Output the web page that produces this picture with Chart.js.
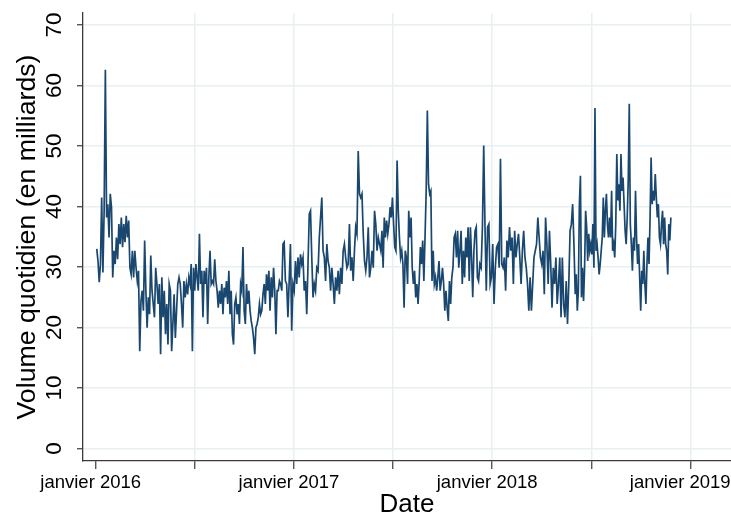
<!DOCTYPE html>
<html>
<head>
<meta charset="utf-8">
<script src="https://cdn.jsdelivr.net/npm/chart.js@4.4.0/dist/chart.umd.min.js"></script>
<style>
  html, body { margin: 0; padding: 0; background: #fff; }
</style>
</head>
<body>
<canvas id="chart" width="731" height="515"></canvas>
<script>
// Volume quotidien in six stretches of trading days
const segDates = ['2016-01-03', '2016-06-21', '2016-12-14', '2017-06-10', '2017-12-07', '2018-06-03', '2018-11-28'];

const vol2016a = [33.0, 31.0, 27.5, 30.5, 41.5, 29.1, 39.3, 62.6, 38.2, 40.4, 34.9, 42.1, 39.9, 28.3, 32.7, 30.5, 34.9, 31.3, 37.1, 33.8,
  38.2, 33.3, 37.1, 34.1, 38.5, 34.9, 37.7, 29.9, 28.8, 32.7, 28.3, 32.7, 29.9, 27.7, 29.4, 16.1, 24.4, 26.1, 22.8, 34.4,
  26.1, 20.0, 25.0, 22.2, 31.9, 26.1, 23.9, 21.7, 29.9, 27.2, 23.9, 27.2, 15.6, 28.3, 21.7, 26.1, 18.9, 23.9, 17.2, 27.2,
  26.1, 16.1, 20.6, 25.5, 18.3, 22.8, 27.2, 28.3, 27.2, 23.9, 20.0, 27.7, 25.0, 27.2, 25.5];

const vol2016b = [28.3, 27.2, 30.5, 16.1, 29.9, 26.1, 30.5, 28.3, 26.1, 35.5, 27.2, 29.4, 21.7, 29.4, 27.2, 29.9, 20.6, 28.3, 32.7, 27.2,
  27.7, 27.2, 31.3, 27.7, 26.1, 23.3, 26.1, 23.9, 27.2, 22.2, 26.6, 25.0, 27.7, 23.9, 29.4, 22.2, 26.1, 18.9, 17.2, 23.9,
  25.0, 22.2, 23.9, 20.6, 27.2, 26.1, 33.3, 22.8, 20.6, 27.2, 23.9, 26.1, 22.8, 21.1, 20.0, 18.3, 15.6, 20.0, 20.6, 21.7,
  23.9, 22.2, 22.8, 25.5, 27.2, 23.9, 28.8, 26.1, 29.4, 22.8, 28.3, 25.0, 29.9, 26.1, 18.9, 26.1, 26.1, 27.7, 27.2, 26.1, 33.8];

const vol2017a = [34.1, 27.7, 27.2, 21.7, 27.7, 33.8, 19.5, 27.2, 26.1, 31.0, 27.2, 31.6, 28.3, 32.1, 30.5, 31.6, 26.1, 27.7, 22.2, 30.5,
  38.8, 39.3, 31.6, 25.0, 27.2, 26.1, 29.9, 29.4, 34.9, 38.2, 41.5, 32.7, 31.6, 27.7, 33.8, 31.0, 29.9, 26.1, 29.9, 27.2,
  23.9, 28.3, 26.1, 29.4, 25.5, 29.9, 27.2, 32.7, 33.8, 31.6, 29.9, 30.5, 37.1, 29.4, 31.6, 27.7, 32.7, 36.6, 35.5, 49.2,
  42.1, 41.5, 42.1, 35.5, 31.0, 29.4, 31.6, 36.6, 28.3, 29.9, 32.7, 29.9, 39.3, 37.1, 32.7, 34.9, 33.8];

const vol2017b = [32.7, 36.0, 29.9, 38.2, 34.9, 37.7, 35.5, 37.1, 39.9, 38.2, 41.5, 37.1, 33.3, 32.7, 47.6, 39.3, 34.9, 31.6, 32.7, 30.5,
  23.3, 32.7, 31.6, 27.2, 39.3, 34.9, 38.2, 29.9, 27.2, 29.4, 25.0, 27.2, 23.9, 27.7, 33.3, 30.5, 34.4, 27.7, 34.9, 42.6,
  55.9, 43.7, 42.1, 42.6, 27.7, 32.7, 27.2, 28.3, 26.1, 28.3, 31.0, 26.1, 27.7, 29.9, 27.2, 22.8, 26.1, 23.3, 21.1, 27.7,
  23.9, 28.3, 29.9, 34.9, 35.5, 31.6, 36.0, 29.9, 32.7, 36.0, 27.2, 32.7, 28.3, 34.9, 31.6, 36.6, 27.7, 36.6, 31.6, 25.0,
  32.7, 36.0, 36.6, 28.3];

const vol2018a = [27.7, 30.5, 29.9, 36.6, 50.1, 36.6, 26.1, 36.6, 37.1, 27.2, 28.3, 33.8, 23.9, 29.9, 33.3, 33.8, 29.9, 47.9, 30.5, 29.9,
  31.6, 26.1, 34.4, 31.6, 36.6, 32.7, 34.9, 27.2, 36.0, 31.6, 33.8, 35.5, 31.6, 27.2, 32.7, 36.0, 31.6, 29.9, 27.2, 22.8,
  28.3, 22.8, 27.2, 31.6, 32.7, 33.8, 38.2, 34.9, 31.6, 30.5, 32.7, 25.5, 38.2, 33.8, 27.2, 36.0, 30.5, 23.3, 29.9, 27.2,
  31.6, 23.9, 27.2, 31.6, 21.7, 31.6, 23.9, 21.7, 27.7, 20.6, 27.2, 36.0, 37.1, 40.4, 33.8];

const vol2018b = [25.5, 28.8, 22.8, 26.1, 40.4, 45.1, 25.0, 29.9, 24.4, 29.9, 39.3, 36.6, 31.0, 35.5, 32.7, 33.8, 32.1, 37.1, 29.9, 56.3,
  32.7, 33.8, 31.6, 28.8, 30.5, 32.7, 34.9, 41.5, 34.9, 39.3, 42.1, 37.1, 34.9, 38.2, 34.9, 42.6, 32.7, 33.8, 31.6, 37.1,
  48.7, 41.0, 43.7, 39.3, 48.7, 42.6, 44.8, 40.4, 36.0, 33.8, 38.2, 44.3, 57.0, 37.1, 33.8, 29.4, 34.9, 32.7, 42.6, 34.9,
  30.5, 33.8, 28.3, 22.8, 29.4, 27.2, 32.7, 27.2, 23.9, 30.5, 34.9, 30.5, 38.2, 48.1, 40.4, 42.6, 41.0, 45.4, 41.5, 38.2,
  40.4, 34.9, 33.8, 37.1, 39.3, 33.8, 38.2, 33.8, 32.7, 28.8, 37.1, 34.4, 38.2];

const segments = [vol2016a, vol2016b, vol2017a, vol2017b, vol2018a, vol2018b];

const yTicks = [0, 10, 20, 30, 40, 50, 60, 70];
const xTicks = [2016, 2016.5, 2017, 2017.5, 2018, 2018.5, 2019];
// last label is pushed back inside the picture, as in the original
const xTickLabels = { 2016: 'janvier 2016', 2017: 'janvier 2017', 2018: 'janvier 2018', 2019: 'janvier 2019  ' };

var lineColor = '#1a476f';
var gridColor = '#e9f0f2';
var axisColor = '#3a3a3a';
var fontFamily = '"Liberation Sans", Arial, Helvetica, sans-serif';

// date string -> decimal year
function toYear(s) {
    var d = new Date(s + 'T00:00:00Z');
    var y = d.getUTCFullYear();
    var start = Date.UTC(y, 0, 1);
    var end = Date.UTC(y + 1, 0, 1);
    return y + (d.getTime() - start) / (end - start);
}

var points = [];
segments.forEach(function(vals, k) {
    var a = toYear(segDates[k]);
    var b = toYear(segDates[k + 1]);
    var step = (b - a) / vals.length;
    vals.forEach(function(v, i) {
        points.push({ x: a + i * step, y: v });
    });
});

const ctx = document.getElementById('chart').getContext('2d');
const myChart = new Chart(ctx, {
    type: 'line',
    data: {
        datasets: [{
            data: points,
            borderColor: lineColor,
            borderWidth: 1.7,
            pointRadius: 0,
            tension: 0,
            fill: false
        }]
    },
    options: {
        responsive: false,
        animation: false,
        devicePixelRatio: 1,
        layout: { padding: { top: 13, right: 0, bottom: 0, left: 0 } },
        plugins: {
            legend: { display: false },
            tooltip: { enabled: false }
        },
        scales: {
            x: {
                type: 'linear',
                min: 2015.936,
                max: 2019.205,
                afterBuildTicks: function(scale) {
                    scale.ticks = xTicks.map(function(v) { return { value: v }; });
                },
                afterFit: function(scale) {
                    scale.height = 54;
                    scale.paddingLeft = 0;
                    scale.paddingRight = 0;
                },
                grid: {
                    // no grid line on the first tick, next to the y axis
                    color: function(c) {
                        return c.tick && c.tick.value === 2016 ? 'rgba(0,0,0,0)' : gridColor;
                    },
                    lineWidth: 1.5,
                    tickLength: 8,
                    tickColor: axisColor,
                    tickWidth: 1.2
                },
                border: { display: true, color: axisColor, width: 1.3 },
                ticks: {
                    autoSkip: false,
                    maxRotation: 0,
                    padding: 3,
                    labelOffset: -5,
                    color: '#000',
                    font: { family: fontFamily, size: 18.5 },
                    callback: function(v) { return xTickLabels[v] || ''; }
                },
                title: {
                    display: true,
                    text: 'Date',
                    color: '#000',
                    font: { family: fontFamily, size: 26, lineHeight: 0.8 },
                    padding: 0
                }
            },
            y: {
                min: -2.05,
                max: 72,
                afterBuildTicks: function(scale) {
                    scale.ticks = yTicks.map(function(v) { return { value: v }; });
                },
                afterFit: function(scale) {
                    scale.width = 83;
                    scale.paddingTop = 0;
                    scale.paddingBottom = 0;
                },
                grid: {
                    color: gridColor,
                    lineWidth: 1.5,
                    tickLength: 6,
                    tickColor: axisColor,
                    tickWidth: 1.2
                },
                border: { display: true, color: axisColor, width: 1.3 },
                ticks: {
                    minRotation: 90,
                    maxRotation: 90,
                    crossAlign: 'center',
                    padding: 10,
                    color: '#000',
                    font: { family: fontFamily, size: 22.5 }
                },
                title: {
                    display: true,
                    text: 'Volume quotidien (en milliards)',
                    color: '#000',
                    font: { family: fontFamily, size: 26.7, lineHeight: 0.8 },
                    padding: { top: 17, bottom: 0 }
                }
            }
        }
    }
});
</script>
</body>
</html>
